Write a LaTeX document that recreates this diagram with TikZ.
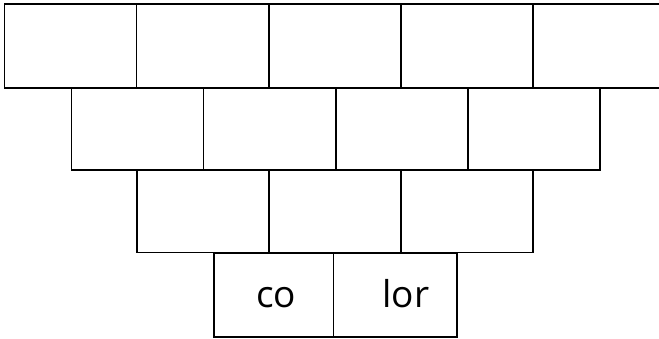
\documentclass[tikz,border=0pt]{standalone}
\usepackage{fontspec}
\setmainfont{Open Sans}
\begin{document}
\begin{tikzpicture}[x=1pt,y=-1pt,
  brick/.style={draw=black,line width=1.6pt,rectangle,inner sep=0pt,anchor=north west},
  lbl/.style={font=\fontsize{37}{44}\selectfont,inner sep=0pt,anchor=base}]
\useasboundingbox (0,0) rectangle (659,338);
\clip (0,0) rectangle (659,338);
% row 1
\foreach \i/\x in {1/3.5,2/135.7,3/267.9,4/400.1,5/532.3}
  \node[brick,minimum width=132.2pt,minimum height=84pt] (a\i) at (\x,3) {};
% row 2
\foreach \i/\x in {1/70.7,2/202.8,3/334.9,4/467}
  \node[brick,minimum width=132.1pt,minimum height=82pt] (b\i) at (\x,87) {};
% row 3
\foreach \i/\x in {1/136,2/268,3/400}
  \node[brick,minimum width=132pt,minimum height=82.5pt] (c\i) at (\x,169) {};
% row 4
\node[brick,minimum width=119.4pt,minimum height=83.5pt] (d1) at (213.3,252.5) {};
\node[brick,minimum width=123.3pt,minimum height=83.5pt] (d2) at (332.7,252.5) {};
\node[lbl] (t1) at (276,307) {co};
\node[lbl] (t2) at (406,307) {lor};
\end{tikzpicture}
\end{document}
